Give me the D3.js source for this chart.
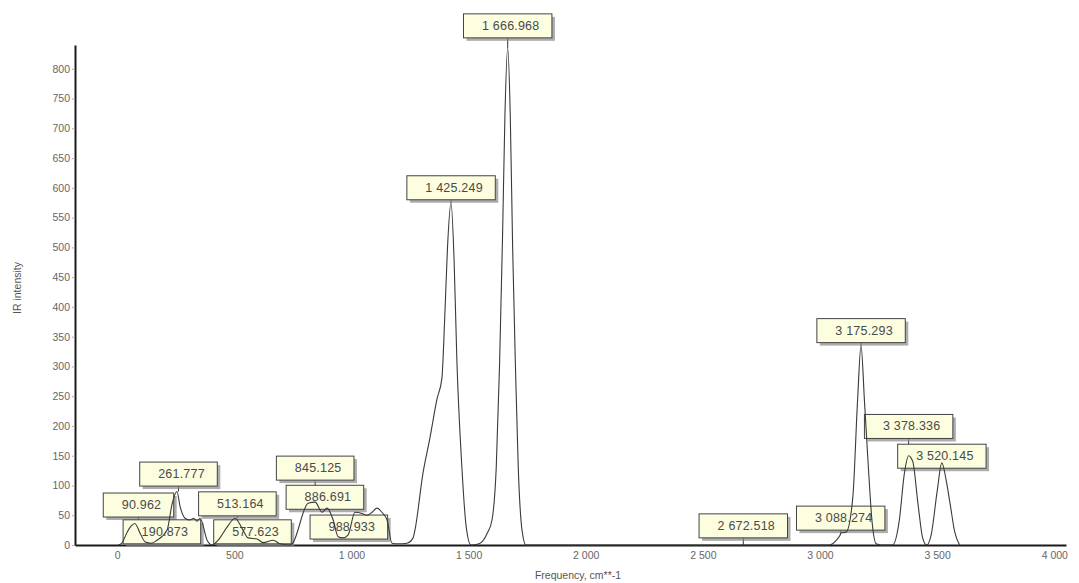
<!DOCTYPE html>
<html>
<head>
<meta charset="utf-8">
<script src="https://cdn.jsdelivr.net/npm/d3@7"></script>
<style>
  body { margin: 0; background: #fff; }
  text { font-family: "Liberation Sans", Arial, sans-serif; }
</style>
</head>
<body>
<div id="chart"></div>
<script>
// spectrum
const freq = [5, 20, 43, 60, 75, 100, 120, 145, 170, 213, 235, 255, 269, 290, 311, 326, 341, 354, 384, 405,
  431, 469, 503, 533, 559, 597, 623, 666, 695, 738, 747, 815, 845, 875, 896, 922, 943, 964, 986, 1015,
  1045, 1065, 1088, 1109, 1130, 1152, 1173, 1200, 1237, 1263, 1271, 1305, 1335, 1365, 1386, 1398, 1410, 1425, 1438, 1450,
  1470, 1490, 1510, 1545, 1580, 1600, 1618, 1632, 1645, 1655, 1667, 1678, 1688, 1700, 1712, 1728, 1745, 3040, 3070, 3085,
  3090, 3112, 3140, 3160, 3175, 3190, 3205, 3222, 3240, 3260, 3310, 3338, 3360, 3378, 3396, 3418, 3438, 3455, 3475, 3500,
  3520, 3538, 3555, 3575, 3596];
const intensity = [0, 3, 22, 32, 36, 18, 5, 3, 8, 25, 70, 90, 64, 45, 42, 45, 40, 45, 8, 0,
  8, 30, 45, 28, 12, 10, 4, 8, 2, 0, 2, 70, 72, 55, 62, 42, 14, 12, 17, 55,
  53, 50, 55, 62, 55, 42, 3, 2, 3, 12, 25, 120, 180, 245, 280, 380, 500, 575, 480, 310,
  140, 30, 0, 2, 20, 42, 130, 300, 520, 720, 835, 720, 500, 300, 130, 25, 0, 0, 8, 16,
  20, 22, 80, 240, 335, 240, 140, 40, 2, 0, 0, 40, 120, 150, 140, 70, 12, 0, 18, 90,
  138, 110, 70, 22, 0];

// annotated peaks
const peakFreq = [90.962, 190.873, 261.777, 513.164, 577.623, 845.125, 886.691, 988.933,
  1425.249, 1666.968, 2672.518, 3088.274, 3175.293, 3378.336, 3520.145];
const peakIntensity = [36, 8, 90, 45, 10, 72, 62, 55, 575, 835, 0, 20, 335, 150, 138];
const labelLevel = [47, 2, 99, 49, 2, 109, 60, 10, 580, 852, 12, 25, 340, 179, 129];

const xTicks = [0, 500, 1000, 1500, 2000, 2500, 3000, 3500, 4000];
const yTicks = [0, 50, 100, 150, 200, 250, 300, 350, 400, 450, 500, 550, 600, 650, 700, 750, 800];

const width = 1079;
const height = 583;

const x = d3.scaleLinear().domain([-180, 4050]).range([75, 1066]);
const y = d3.scaleLinear().domain([0, 840]).range([545, 45]);

const locale = d3.formatLocale({decimal: ".", thousands: " ", grouping: [3], currency: ["", ""]});
const fmtTick = locale.format(",d");
const fmtPeak = locale.format(",.3f");

const svg = d3.select("#chart").append("svg")
  .attr("width", width)
  .attr("height", height)
  .style("display", "block");

svg.append("rect").attr("width", width).attr("height", height).attr("fill", "#fff");

// axes
const yAxis = svg.append("g")
  .attr("transform", `translate(${x.range()[0]},0)`)
  .call(d3.axisLeft(y).tickValues(yTicks).tickSize(3).tickSizeOuter(0).tickPadding(2).tickFormat(fmtTick));

const xAxis = svg.append("g")
  .attr("transform", `translate(0,${y(0)})`)
  .call(d3.axisBottom(x).tickValues(xTicks).tickSize(0).tickSizeOuter(0).tickPadding(7).tickFormat(fmtTick));

[xAxis, yAxis].forEach(a => {
  a.select(".domain").attr("stroke", "#1a1a1a").attr("stroke-width", 2);
  a.selectAll(".tick line").attr("stroke", "#aaa");
  a.selectAll(".tick text")
    .attr("fill", "#666")
    .style("font-size", "10.5px")
    .style("font-family", "'Liberation Sans', Arial, sans-serif");
});

svg.append("text")
  .attr("transform", "translate(21,288) rotate(-90)")
  .attr("text-anchor", "middle")
  .attr("fill", "#555")
  .style("font-size", "10.5px")
  .text("IR intensity");

svg.append("text")
  .attr("x", 578)
  .attr("y", 579)
  .attr("text-anchor", "middle")
  .attr("fill", "#555")
  .style("font-size", "10.5px")
  .text("Frequency, cm**-1");

// peak labels
const peaks = peakFreq.map((f, i) => ({f, v: peakIntensity[i], level: labelLevel[i]}));

const labels = svg.append("g").attr("class", "labels")
  .selectAll("g")
  .data(peaks)
  .join("g")
  .attr("transform", d => `translate(${x(d.f)},${y(d.level)})`);

// leader lines
labels.append("line")
  .attr("x1", 0).attr("x2", 0)
  .attr("y1", 0)
  .attr("y2", d => Math.max(0, y(d.v) - y(d.level)))
  .attr("stroke", "#333")
  .attr("stroke-width", 1);

labels.each(function(d) {
  const g = d3.select(this);
  const t = g.append("text")
    .attr("x", 3)
    .attr("y", -8)
    .attr("text-anchor", "middle")
    .attr("fill", "#4a4a4a")
    .style("font-size", "12.5px")
    .style("letter-spacing", "0.2px")
    .text(fmtPeak(d.f));
  const w = t.node().getComputedTextLength() + 31;
  g.insert("rect", "text")
    .attr("x", -w / 2 + 3).attr("y", -24 + 3)
    .attr("width", w).attr("height", 24)
    .attr("fill", "#8a8a8a")
    .attr("opacity", 0.7);
  g.insert("rect", "text")
    .attr("x", -w / 2).attr("y", -24)
    .attr("width", w).attr("height", 24)
    .attr("fill", "#fdfde0")
    .attr("stroke", "#444")
    .attr("stroke-width", 1);
});

// spectrum on top
const line = d3.line()
  .x((d, i) => x(freq[i]))
  .y(d => y(d))
  .curve(d3.curveMonotoneX);

svg.append("path")
  .datum(intensity)
  .attr("fill", "none")
  .attr("stroke", "#3a3a3a")
  .attr("stroke-width", 1.1)
  .attr("stroke-linejoin", "round")
  .attr("d", line);
</script>
</body>
</html>
